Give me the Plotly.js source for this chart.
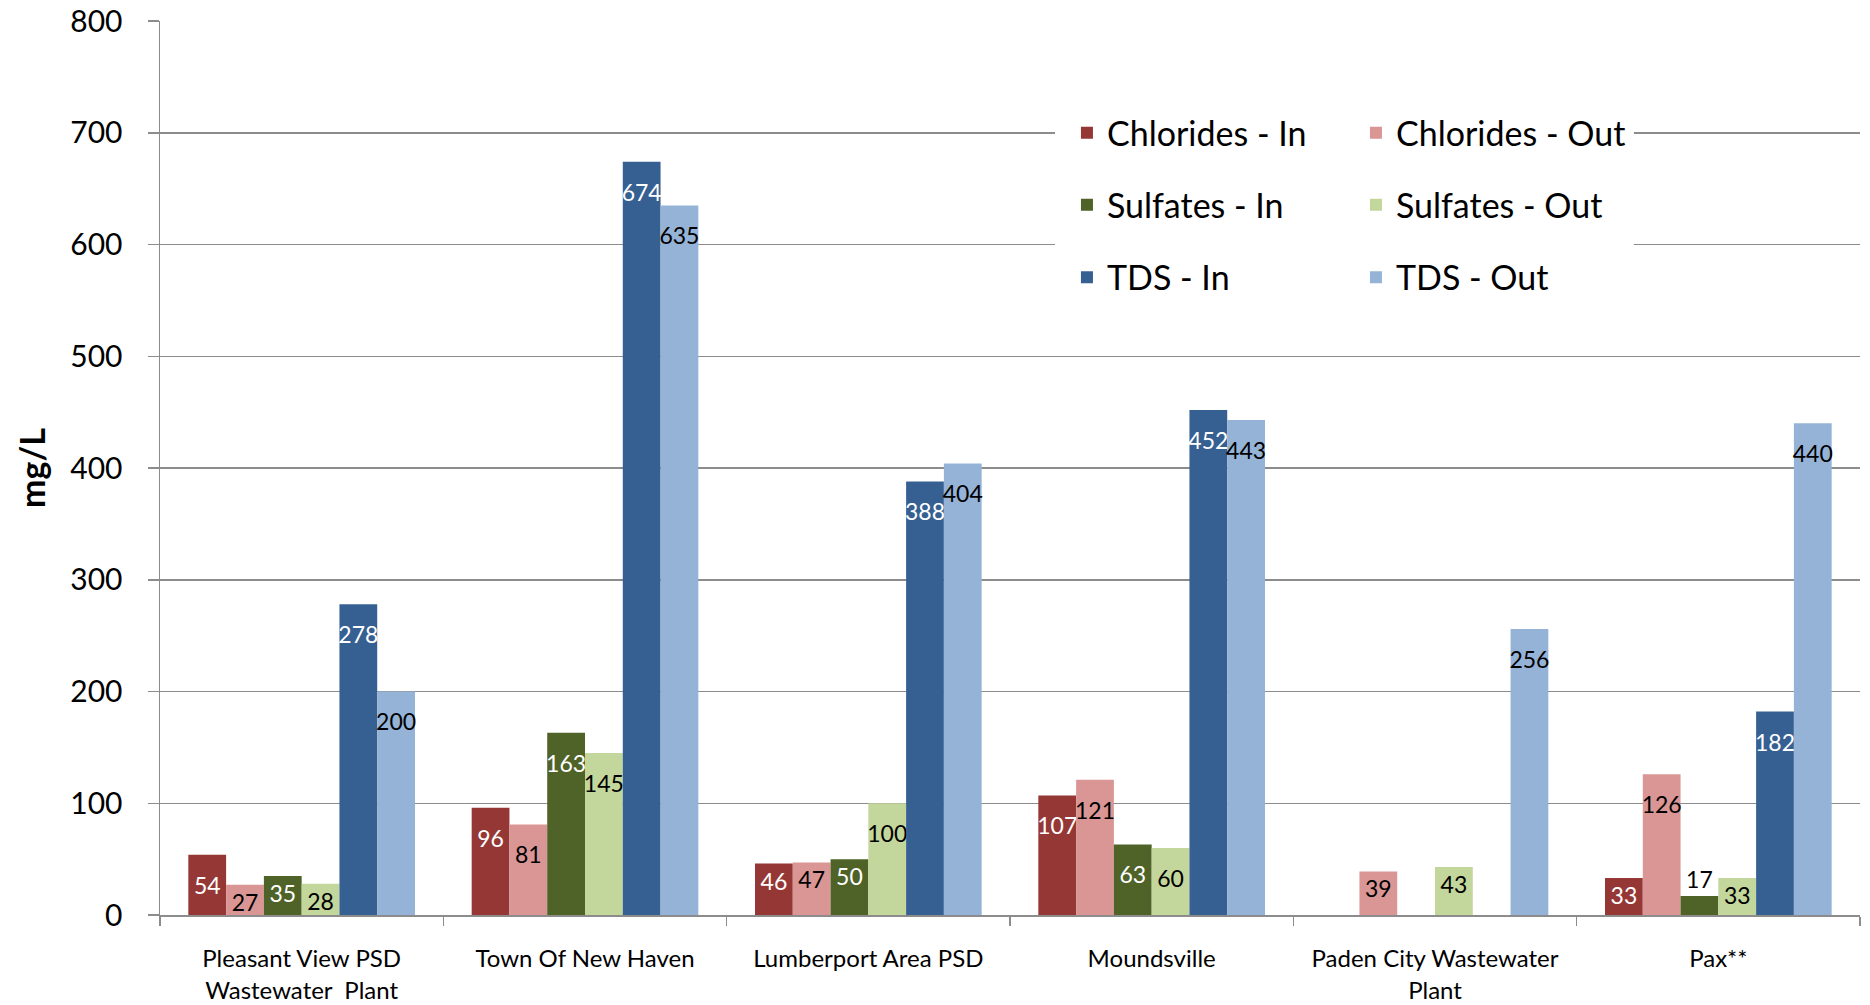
<!DOCTYPE html>
<html>
<head>
<meta charset="utf-8">
<script src="https://cdn.plot.ly/plotly-3.0.1.min.js"></script>
<style>html,body{margin:0;padding:0;background:#fff;}#chart{width:1870px;height:1005px;}</style>
</head>
<body>
<div id="chart"></div>
<script>
var categories = ["Pleasant View PSD<br>Wastewater  Plant", "Town Of New Haven", "Lumberport Area PSD", "Moundsville", "Paden City Wastewater<br>Plant", "Pax**"];
var chloridesIn  = [54, 96, 46, 107, null, 33];
var chloridesOut = [27, 81, 47, 121, 39, 126];
var sulfatesIn   = [35, 163, 50, 63, null, 17];
var sulfatesOut  = [28, 145, 100, 60, 43, 33];
var tdsIn        = [278, 674, 388, 452, null, 182];
var tdsOut       = [200, 635, 404, 443, 256, 440];
var yTicks = [0, 100, 200, 300, 400, 500, 600, 700, 800];

var FONT = "Lato, 'Open Sans', sans-serif";
var GRID = "#8c8c8c";

// label text: tall bars get a tiny spacer line so the number sits lower inside the bar
function labelText(v) {
  if (v === null) return "";
  if (v >= 51) return "<span style='font-size:6px'>\u00a0</span><br>" + v;
  return String(v);
}

function series(name, vals, color, textColor, legendId) {
  return {
    type: "bar", name: name, x: categories, y: vals,
    marker: {color: color, line: {width: 0}},
    text: vals.map(labelText),
    texttemplate: "%{text}",
    textposition: vals.map(function(v){ return (v !== null && v < 20) ? "outside" : "inside"; }),
    insidetextanchor: "end",
    textangle: 0,
    textfont: {family: FONT, size: 23, color: textColor},
    insidetextfont: {family: FONT, size: 23, color: textColor},
    outsidetextfont: {family: FONT, size: 23, color: "#000"},
    constraintext: "none",
    cliponaxis: false,
    hoverinfo: "name+y",
    legend: legendId
  };
}

var data = [
  series("Chlorides - In", chloridesIn, "#953735", "#fff", "legend"),
  series("Chlorides - Out", chloridesOut, "#D99694", "#000", "legend"),
  series("Sulfates - In", sulfatesIn, "#4F6228", "#fff", "legend2"),
  series("Sulfates - Out", sulfatesOut, "#C3D69B", "#000", "legend2"),
  series("TDS - In", tdsIn, "#366092", "#fff", "legend3"),
  series("TDS - Out", tdsOut, "#95B3D7", "#000", "legend3")
];

function leg(yc) {
  return {
    orientation: "h", x: 0.5335, xanchor: "left", y: yc, yanchor: "middle",
    bgcolor: "rgba(0,0,0,0)", borderwidth: 0,
    font: {family: FONT, size: 34, color: "#000"},
    entrywidth: 244, entrywidthmode: "pixels", traceorder: "normal"
  };
}

var layout = {
  width: 1870, height: 1005,
  margin: {l: 160, r: 10, t: 21, b: 90, pad: 0},
  paper_bgcolor: "#fff", plot_bgcolor: "#fff",
  font: {family: FONT, color: "#000"},
  barmode: "group", bargap: 0.2, bargroupgap: 0,
  uniformtext: {mode: "show", minsize: 23},
  showlegend: true,
  legend: leg(0.8745),
  legend2: leg(0.794),
  legend3: leg(0.713),
  xaxis: {
    type: "category", tickson: "boundaries", ticks: "outside", ticklen: 9,
    tickcolor: GRID, tickwidth: 1.5, showline: true, linecolor: GRID, linewidth: 1.5,
    showgrid: false, zeroline: false, ticklabelstandoff: 22,
    tickfont: {family: FONT, size: 24, color: "#000"}, automargin: false
  },
  yaxis: {
    range: [0, 800], tickvals: yTicks, ticktext: yTicks.map(String),
    ticks: "outside", ticklen: 11, tickcolor: GRID, tickwidth: 1.5,
    showline: true, linecolor: GRID, linewidth: 1.5,
    showgrid: true, gridcolor: GRID, gridwidth: 1.5, zeroline: false,
    tickfont: {family: FONT, size: 30, color: "#000"}, ticklabelstandoff: 19,
    title: {text: "mg/L", font: {family: FONT, size: 34, weight: "bold", color: "#000"}, standoff: 14},
    automargin: false
  },
  shapes: [{
    type: "rect", xref: "paper", yref: "paper", layer: "above",
    x0: 0.5265, x1: 0.867, y0: 0.677, y1: 0.917,
    fillcolor: "#fff", line: {width: 0}
  }]
};

Plotly.newPlot("chart", data, layout, {displayModeBar: false, staticPlot: true});
</script>
</body>
</html>
